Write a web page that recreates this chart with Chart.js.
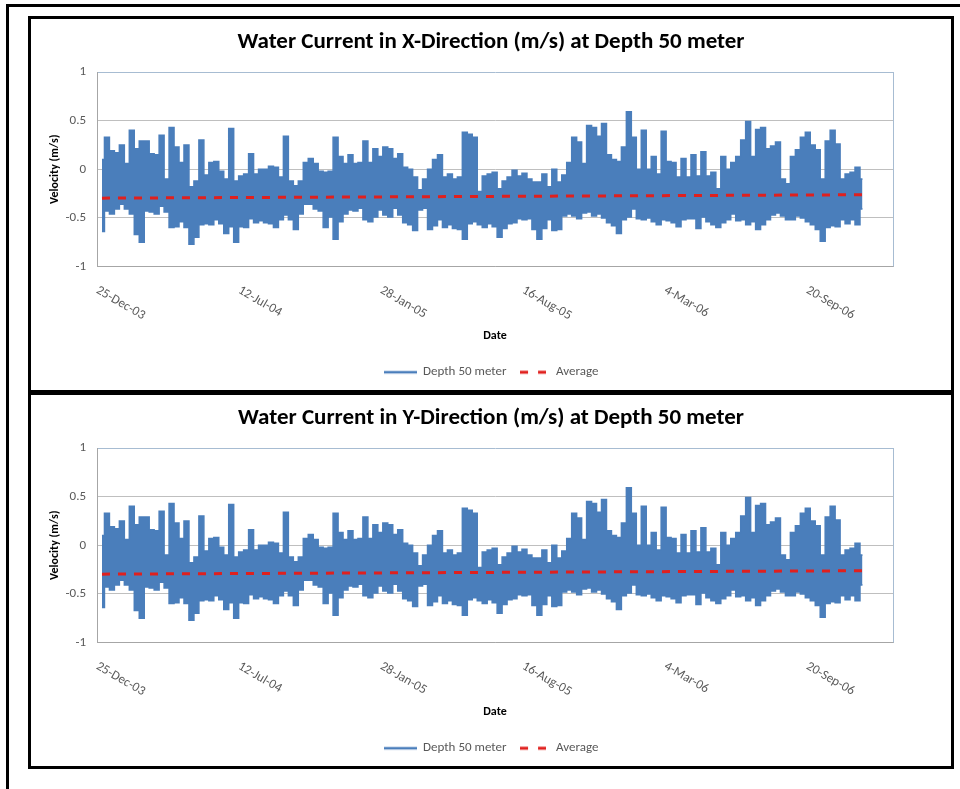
<!DOCTYPE html>
<html>
<head>
<meta charset="utf-8">
<script src="https://cdn.jsdelivr.net/npm/chart.js@4.4.1/dist/chart.umd.min.js"></script>
<style>
    body { margin: 0; background: #fff; }
    .frame {
        position: absolute; left: 6px; top: 4px; width: 1100px; height: 1000px;
        border-left: 3px solid #000; border-top: 3px solid #000;
    }
    .box {
        position: absolute; left: 28px; width: 920px; height: 371px;
        border: 3px solid #000; background: #fff;
    }
    .box canvas { display: block; }
</style>
</head>
<body>
<div class="frame"></div>
<div class="box" style="top:16px"><canvas id="chartX" width="920" height="371"></canvas></div>
<div class="box" style="top:392px"><canvas id="chartY" width="920" height="371"></canvas></div>
<script>
// x axis is days since 25-Dec-03, ticks every 200 days
const tickDays = [0, 200, 400, 600, 800, 1000];
const tickLabels = ['25-Dec-03', '12-Jul-04', '28-Jan-05', '16-Aug-05', '4-Mar-06', '20-Sep-06'];
const axisMaxDay = 1121;

// weekly envelope of the velocity trace (m/s)
const sampleStartDay = 7;
const sampleStepDays = 7;
const velHigh = [
    0.10, 0.33, 0.19, 0.17, 0.25, 0.06, 0.40, 0.21, 0.29, 0.29,
    0.16, 0.15, 0.35, -0.10, 0.43, 0.23, 0.07, 0.25, -0.18, -0.12,
    0.30, -0.06, 0.07, 0.08, -0.02, -0.10, 0.42, -0.12, -0.07, -0.05,
    0.16, -0.05, 0.00, 0.00, 0.03, 0.02, -0.08, 0.34, -0.12,
    -0.17, -0.12, 0.07, 0.11, 0.06, -0.02, -0.03, -0.02, 0.33, 0.13,
    0.06, 0.15, 0.06, 0.07, 0.29, 0.07, 0.21, 0.13, 0.23, 0.21,
    0.11, 0.16, 0.02, 0.00, -0.08, -0.21, -0.10, 0.00, 0.10, 0.15,
    -0.08, -0.05, -0.10, -0.08, 0.38, 0.36, 0.33, -0.23, -0.07,
    -0.05, -0.03, -0.20, -0.12, -0.08, -0.01, -0.07, -0.04, -0.10, -0.13,
    -0.13, -0.05, -0.18, 0.00, -0.13, -0.06, 0.07, 0.33, 0.28, 0.06,
    0.45, 0.43, 0.34, 0.47, 0.15, 0.10, 0.08, 0.23, 0.59, 0.33,
    0.00, 0.40, 0.00, 0.13, -0.05, 0.39, 0.08, 0.07, -0.08,
    0.11, -0.08, 0.15, -0.07, 0.18, -0.07, -0.03, -0.20, 0.13, 0.00,
    0.07, 0.13, 0.30, 0.49, 0.13, 0.41, 0.43, 0.21, 0.24, 0.28,
    -0.10, -0.15, 0.13, 0.20, 0.33, 0.38, 0.25, 0.20, -0.10, 0.29,
    0.40, 0.26, -0.10, -0.05, -0.03, 0.02, -0.10,
];
const velLow = [
    -0.64, -0.43, -0.46, -0.41, -0.36, -0.41, -0.46, -0.67, -0.75, -0.43,
    -0.44, -0.46, -0.38, -0.44, -0.60, -0.59, -0.54, -0.60, -0.77, -0.70,
    -0.57, -0.56, -0.57, -0.52, -0.56, -0.66, -0.59, -0.75, -0.59, -0.60,
    -0.51, -0.55, -0.53, -0.55, -0.56, -0.60, -0.52, -0.47, -0.52,
    -0.62, -0.46, -0.36, -0.36, -0.41, -0.43, -0.60, -0.49, -0.72, -0.54,
    -0.46, -0.42, -0.43, -0.40, -0.52, -0.54, -0.49, -0.42, -0.47, -0.49,
    -0.40, -0.47, -0.55, -0.57, -0.63, -0.42, -0.40, -0.62, -0.58, -0.52,
    -0.60, -0.57, -0.61, -0.62, -0.72, -0.56, -0.54, -0.57, -0.60,
    -0.56, -0.59, -0.70, -0.61, -0.56, -0.55, -0.51, -0.52, -0.51, -0.62,
    -0.72, -0.61, -0.52, -0.63, -0.62, -0.48, -0.46, -0.48, -0.51, -0.45,
    -0.44, -0.48, -0.46, -0.50, -0.55, -0.58, -0.66, -0.52, -0.49, -0.41,
    -0.51, -0.52, -0.50, -0.54, -0.57, -0.52, -0.53, -0.55, -0.59,
    -0.52, -0.51, -0.51, -0.61, -0.49, -0.54, -0.57, -0.60, -0.55, -0.52,
    -0.46, -0.53, -0.52, -0.57, -0.54, -0.62, -0.57, -0.52, -0.47, -0.45,
    -0.48, -0.52, -0.52, -0.48, -0.50, -0.54, -0.57, -0.62, -0.74, -0.60,
    -0.58, -0.59, -0.52, -0.56, -0.52, -0.57, -0.41,
];

// average line end points
const avgDays = [7, 1082];
const avgValues = [-0.297, -0.262];

const FONT = 'Carlito, Lato, sans-serif';
const BLUE = '#4A7EBB';
const RED = '#E0201E';
Chart.defaults.font.family = FONT;
Chart.defaults.color = '#595959';

function sampleDay(i) {
    return sampleStartDay + i * sampleStepDays;
}

// small line swatches for the legend
function swatch(w, color, lw, dash) {
    const c = document.createElement('canvas');
    c.width = w;
    c.height = 6;
    const g = c.getContext('2d');
    g.strokeStyle = color;
    g.lineWidth = lw;
    g.setLineDash(dash);
    g.beginPath();
    g.moveTo(0, 3);
    g.lineTo(w, 3);
    g.stroke();
    return c;
}

const dateLabels = {
    id: 'dateLabels',
    afterDraw(chart) {
        const { ctx, chartArea, scales: { x } } = chart;
        ctx.save();
        ctx.font = '13px ' + FONT;
        ctx.fillStyle = '#595959';
        ctx.textAlign = 'left';
        ctx.textBaseline = 'middle';
        tickDays.forEach((d, i) => {
            ctx.save();
            ctx.translate(x.getPixelForValue(d), chartArea.bottom + 23);
            ctx.rotate(Math.PI / 6);
            ctx.fillText(tickLabels[i], 0, 0);
            ctx.restore();
        });
        // right edge of plot frame
        ctx.strokeStyle = '#A7BCD2';
        ctx.lineWidth = 1;
        ctx.beginPath();
        ctx.moveTo(chartArea.right + 0.5, chartArea.top);
        ctx.lineTo(chartArea.right + 0.5, chartArea.bottom);
        ctx.stroke();
        ctx.restore();
    },
};

function makeChart(canvasId, titleText) {
    const ctx = document.getElementById(canvasId).getContext('2d');
    return new Chart(ctx, {
        type: 'line',
        data: {
            datasets: [
                {
                    label: 'Depth 50 meter',
                    data: velHigh.map((v, i) => ({ x: sampleDay(i), y: v })),
                    borderColor: BLUE,
                    backgroundColor: BLUE,
                    borderWidth: 1.5,
                    pointRadius: 0,
                    pointStyle: swatch(33, BLUE, 2.5, []),
                    stepped: 'middle',
                    fill: '+1',
                    order: 1,
                },
                {
                    label: 'low',
                    data: velLow.map((v, i) => ({ x: sampleDay(i), y: v })),
                    borderColor: BLUE,
                    backgroundColor: BLUE,
                    borderWidth: 1.5,
                    pointRadius: 0,
                    stepped: 'middle',
                    order: 2,
                },
                {
                    label: 'Average',
                    data: avgDays.map((d, i) => ({ x: d, y: avgValues[i] })),
                    borderColor: RED,
                    backgroundColor: RED,
                    borderWidth: 3,
                    borderDash: [8, 8],
                    pointRadius: 0,
                    pointStyle: swatch(26, RED, 3, [8, 10]),
                    order: 0,
                },
            ],
        },
        options: {
            responsive: false,
            animation: false,
            devicePixelRatio: 1,
            layout: { padding: { top: 0, left: 0, right: 0, bottom: 1.3 } },
            plugins: {
                title: {
                    display: true,
                    text: titleText,
                    color: '#000',
                    font: { size: 23, weight: 'bold' },
                    padding: { top: 9.2, bottom: 16.2 },
                },
                legend: {
                    position: 'bottom',
                    labels: {
                        usePointStyle: true,
                        pointStyleWidth: 33,
                        color: '#595959',
                        font: { size: 13 },
                        padding: 10,
                        filter: (item) => item.datasetIndex !== 1,
                        sort: (a, b) => a.datasetIndex - b.datasetIndex,
                    },
                },
                tooltip: { enabled: false },
            },
            scales: {
                x: {
                    type: 'linear',
                    min: 0,
                    max: axisMaxDay,
                    grid: { display: false },
                    border: { color: '#A6A6A6' },
                    ticks: { display: false, stepSize: 200 },
                    title: {
                        display: true,
                        text: 'Date',
                        color: '#000',
                        font: { size: 12, weight: 'bold' },
                        padding: { top: 54.5, bottom: 12.3 },
                    },
                },
                y: {
                    min: -1,
                    max: 1,
                    afterFit: (scale) => { scale.width = 66; },
                    grid: {
                        drawTicks: false,
                        color: (c) => (c.tick && c.tick.value === 1 ? '#A7BCD2' : '#BFBFBF'),
                    },
                    border: { color: '#A6A6A6' },
                    ticks: {
                        stepSize: 0.5,
                        padding: 11,
                        font: { size: 13 },
                        color: '#595959',
                        callback: (v) => String(v),
                    },
                    title: {
                        display: true,
                        text: 'Velocity (m/s)',
                        color: '#000',
                        font: { size: 12, weight: 'bold' },
                        padding: { top: 16.8 },
                    },
                },
                // empty right-hand axis keeps space right of the plot
                yRight: {
                    position: 'right',
                    min: -1,
                    max: 1,
                    afterFit: (scale) => { scale.width = 58; },
                    grid: { display: false },
                    border: { display: false },
                    ticks: { display: false },
                },
            },
        },
        plugins: [dateLabels],
    });
}

makeChart('chartX', 'Water Current in X-Direction (m/s) at Depth 50 meter');
makeChart('chartY', 'Water Current in Y-Direction (m/s) at Depth 50 meter');
</script>
</body>
</html>
